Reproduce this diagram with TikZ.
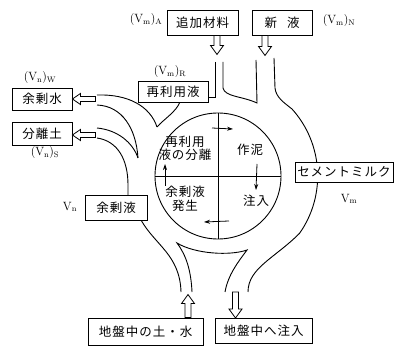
\documentclass[tikz,border=0pt]{standalone}
\usepackage{fontspec}
\newfontfamily\jp[LetterSpace=8]{Noto Sans CJK JP}
\usetikzlibrary{arrows.meta}
\newcommand\arrdown[2]{\draw[blk] #1 ++(-3,0) -- ++(0,{#2-9}) -- ++(-3.5,0) -- ++(6.5,9) -- ++(6.5,-9) -- ++(-3.5,0) -- ++(0,{-(#2-9)}) -- cycle;}
\newcommand\arrup[2]{\draw[blk] #1 ++(-3,0) -- ++(0,{-(#2-9)}) -- ++(-3.5,0) -- ++(6.5,-9) -- ++(6.5,9) -- ++(-3.5,0) -- ++(0,{#2-9}) -- cycle;}
\newcommand\arrleft[2]{\draw[blk] #1 -- ++(8,-5.5) -- ++(0,3) -- ++({#2-8},0) -- ++(0,5) -- ++({-(#2-8)},0) -- ++(0,3) -- cycle;}
\begin{document}
\begin{tikzpicture}[x=1pt,y=-1pt,
  wall/.style={line width=0.9pt},
  box/.style={draw, line width=0.9pt, fill=white, inner sep=0pt, font=\jp\fontsize{12.5}{13}\selectfont},
  lbl/.style={font=\fontsize{12}{13}\selectfont, inner sep=0pt},
  blk/.style={line width=0.8pt, fill=white},
  cyc/.style={line width=0.8pt, -{Stealth[length=6pt,width=4pt]}},
  ctext/.style={font=\jp\fontsize{12.5}{13.5}\selectfont, align=center, inner sep=0pt}]
\useasboundingbox (0,0) rectangle (396,347);
% channel walls
\draw[wall] (274,58) -- (275,88) .. controls (276,97) and (283,102) .. (292,109)
  arc[start angle=-42, end angle=35, radius=100]
  .. controls (275,258) and (248,268) .. (248,292);
\draw[wall] (256,60) -- (257,103) .. controls (242,96) and (225,97) .. (223,88) -- (223,62);
\draw[wall] (215,62) -- (215,97) -- (208,97);
\draw[wall] (180,102) .. controls (176,112) and (164,119) .. (157,127);
\draw[wall] (97,95) .. controls (128,94) and (150,106) .. (157,127);
\draw[wall] (97,105) .. controls (122,106) and (136,128) .. (138,158);
\draw[wall] (97,128) .. controls (118,130) and (133,143) .. (138,158);
\draw[wall] (97,138) .. controls (118,141) and (128,160) .. (128,185) -- (128,195);
\draw[wall] (141,220) .. controls (155,245) and (180,255) .. (181,292);
\draw[wall] (192,292) .. controls (191,270) and (186,255) .. (177,243)
  .. controls (195,254) and (230,256) .. (247,250)
  .. controls (238,262) and (228,275) .. (225,292);
% inner cycle
\node[circle, draw, line width=0.9pt, minimum size=126pt, inner sep=0pt] (cyc) at (218,176) {};
\draw[line width=0.8pt] (cyc.north) -- (cyc.south);
\draw[line width=0.8pt] (cyc.west) -- (cyc.east);
\node[ctext] (t1) at (185,148.5) {再利用\\液の分離};
\node[ctext] (t2) at (250,150) {作泥};
\node[ctext] (t3) at (256,201) {注入};
\node[ctext] (t4) at (185,199) {余剰液\\発生};
\coordinate (a1) at (212,128); \coordinate (a2) at (233,129);
\coordinate (b1) at (257,164); \coordinate (b2) at (256,190);
\coordinate (c1) at (229,221); \coordinate (c2) at (204,222);
\coordinate (d1) at (165,186); \coordinate (d2) at (165,164);
\draw[cyc] (a1) -- (a2);
\draw[cyc] (b1) -- (b2);
\draw[cyc] (c1) -- (c2);
\draw[cyc] (d1) -- (d2);
% boxes
\node[box, minimum width=71pt, minimum height=25pt] (add) at (202.5,22.5) {追加材料};
\node[box, minimum width=60pt, minimum height=25pt] (new) at (282,22.5) {新\hspace{10pt}液};
\node[box, minimum width=70pt, minimum height=21pt] (reuse) at (173,91.5) {再利用液};
\node[box, minimum width=60pt, minimum height=22pt] (surpw) at (42,99) {余剰水};
\node[box, minimum width=60pt, minimum height=23pt] (soil) at (42,133.5) {分離土};
\node[box, minimum width=62pt, minimum height=25pt] (surpl) at (116,207.5) {余剰液};
\node[box, minimum width=98pt, minimum height=20pt] (cement) at (344,172) {セメントミルク};
\node[box, minimum width=115pt, minimum height=27pt] (gin) at (145.5,331.5) {地盤中の土・水};
\node[box, minimum width=97pt, minimum height=25pt] (gout) at (263.5,331) {地盤中へ注入};
% block arrows
\arrdown{([xshift=14.5pt]add.south)}{19}
\arrdown{([xshift=-17pt]new.south)}{20}
\arrleft{(surpw.east)}{23}
\arrleft{([yshift=-1.5pt]soil.east)}{23}
\arrup{([xshift=42.5pt]gin.north)}{23}
\arrdown{([xshift=-28pt,yshift=26pt]gout.north)}{26}
% labels
\node[lbl] (lA) at (146,20) {$(\mathrm{V_m})_{\mathrm{A}}$};
\node[lbl] (lN) at (339,21) {$(\mathrm{V_m})_{\mathrm{N}}$};
\node[lbl] (lR) at (170,72) {$(\mathrm{V_m})_{\mathrm{R}}$};
\node[lbl] (lW) at (40,78) {$(\mathrm{V_n})_{\mathrm{W}}$};
\node[lbl] (lS) at (45,153) {$(\mathrm{V_n})_{\mathrm{S}}$};
\node[lbl] (lV) at (70,207) {$\mathrm{V_n}$};
\node[lbl] (lM) at (349,199) {$\mathrm{V_m}$};
\end{tikzpicture}
\end{document}
